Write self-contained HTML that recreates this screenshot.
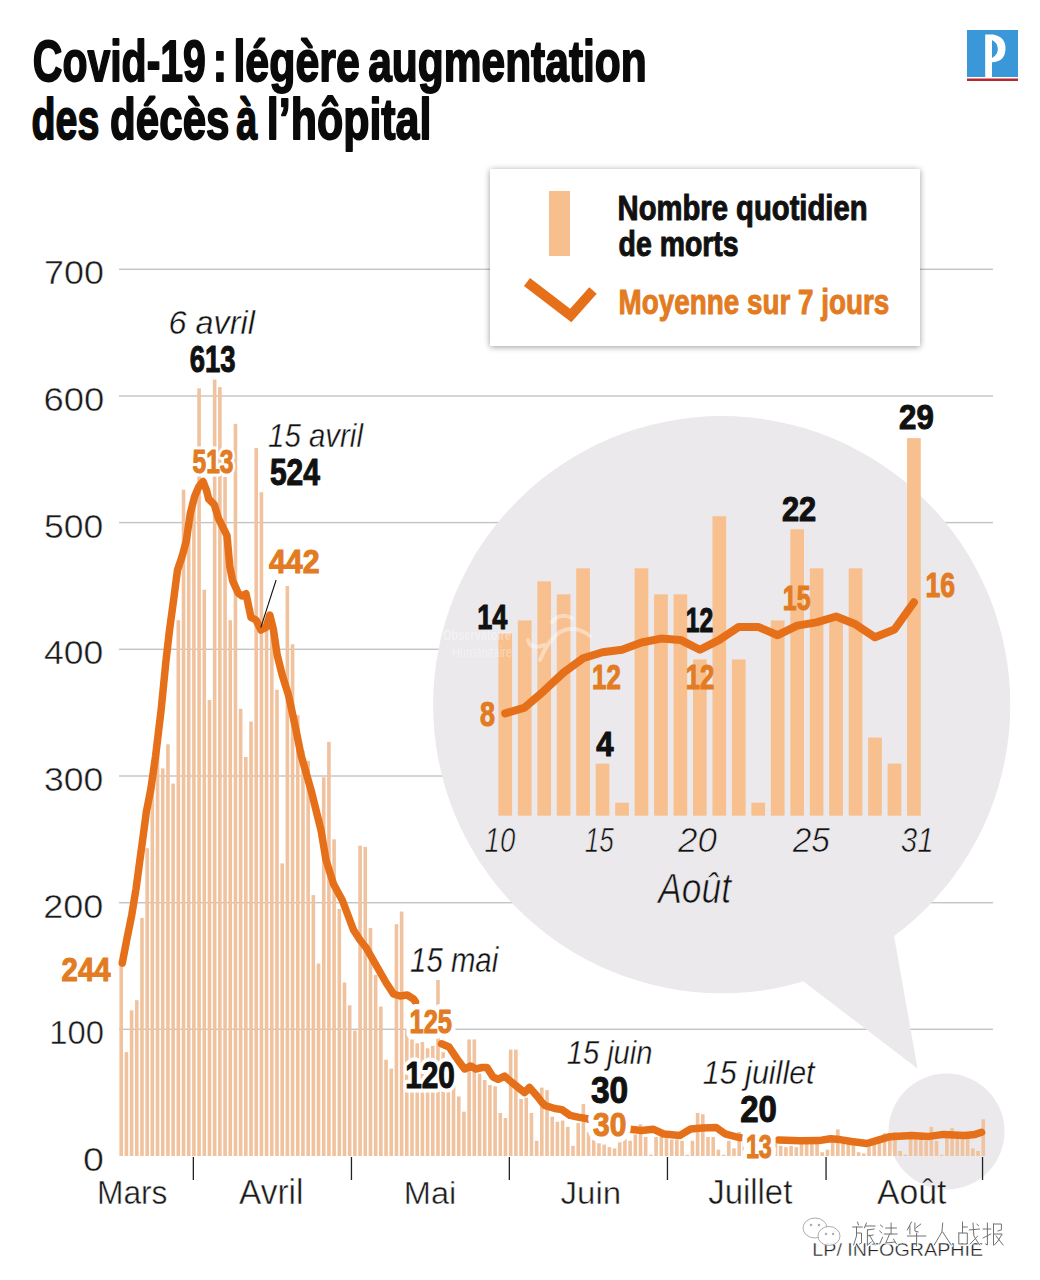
<!DOCTYPE html>
<html><head><meta charset="utf-8"><title>Covid-19</title>
<style>html,body{margin:0;padding:0;background:#fff;overflow:hidden;}svg{display:block;}</style>
</head><body>
<svg width="1040" height="1280" viewBox="0 0 1040 1280" font-family='"Liberation Sans", sans-serif'>
<defs><filter id="sh" x="-10%" y="-20%" width="120%" height="140%"><feGaussianBlur in="SourceAlpha" stdDeviation="3"/><feOffset dx="0" dy="1" result="b"/><feComponentTransfer><feFuncA type="linear" slope="0.4"/></feComponentTransfer><feMerge><feMergeNode/><feMergeNode in="SourceGraphic"/></feMerge></filter></defs>
<rect width="1040" height="1280" fill="#fff"/>
<rect x="119" y="1028.6" width="874" height="1.4" fill="#c4c4c4"/>
<rect x="119" y="902.0" width="874" height="1.4" fill="#c4c4c4"/>
<rect x="119" y="775.3" width="874" height="1.4" fill="#c4c4c4"/>
<rect x="119" y="648.6" width="874" height="1.4" fill="#c4c4c4"/>
<rect x="119" y="521.9" width="874" height="1.4" fill="#c4c4c4"/>
<rect x="119" y="395.3" width="874" height="1.4" fill="#c4c4c4"/>
<rect x="119" y="268.6" width="874" height="1.4" fill="#c4c4c4"/>
<circle cx="721.7" cy="704.7" r="288.6" fill="#ebe9ec"/>
<polygon points="795,975 917.5,1068.5 893,930" fill="#ebe9ec"/>
<circle cx="946.5" cy="1131.5" r="58" fill="#ebe9ec"/>
<rect x="119.40" y="966.00" width="3.6" height="190.00" fill="#f0c29e"/>
<rect x="124.59" y="1052.13" width="3.6" height="103.87" fill="#f0c29e"/>
<rect x="129.79" y="1010.33" width="3.6" height="145.67" fill="#f0c29e"/>
<rect x="134.98" y="1000.20" width="3.6" height="155.80" fill="#f0c29e"/>
<rect x="140.17" y="917.86" width="3.6" height="238.14" fill="#f0c29e"/>
<rect x="145.36" y="848.19" width="3.6" height="307.81" fill="#f0c29e"/>
<rect x="150.56" y="775.99" width="3.6" height="380.01" fill="#f0c29e"/>
<rect x="155.75" y="725.32" width="3.6" height="430.68" fill="#f0c29e"/>
<rect x="160.94" y="768.39" width="3.6" height="387.61" fill="#f0c29e"/>
<rect x="166.14" y="744.32" width="3.6" height="411.68" fill="#f0c29e"/>
<rect x="171.33" y="783.59" width="3.6" height="372.41" fill="#f0c29e"/>
<rect x="176.52" y="620.19" width="3.6" height="535.81" fill="#f0c29e"/>
<rect x="181.72" y="489.72" width="3.6" height="666.28" fill="#f0c29e"/>
<rect x="186.91" y="535.32" width="3.6" height="620.68" fill="#f0c29e"/>
<rect x="192.10" y="507.45" width="3.6" height="648.55" fill="#f0c29e"/>
<rect x="197.29" y="388.38" width="3.6" height="767.62" fill="#f0c29e"/>
<rect x="202.49" y="589.79" width="3.6" height="566.21" fill="#f0c29e"/>
<rect x="207.68" y="699.99" width="3.6" height="456.01" fill="#f0c29e"/>
<rect x="212.87" y="379.51" width="3.6" height="776.49" fill="#f0c29e"/>
<rect x="218.07" y="387.11" width="3.6" height="768.89" fill="#f0c29e"/>
<rect x="223.26" y="477.05" width="3.6" height="678.95" fill="#f0c29e"/>
<rect x="228.45" y="620.19" width="3.6" height="535.81" fill="#f0c29e"/>
<rect x="233.65" y="423.85" width="3.6" height="732.15" fill="#f0c29e"/>
<rect x="238.84" y="708.85" width="3.6" height="447.15" fill="#f0c29e"/>
<rect x="244.03" y="756.99" width="3.6" height="399.01" fill="#f0c29e"/>
<rect x="249.22" y="721.52" width="3.6" height="434.48" fill="#f0c29e"/>
<rect x="254.42" y="447.91" width="3.6" height="708.09" fill="#f0c29e"/>
<rect x="259.61" y="492.25" width="3.6" height="663.75" fill="#f0c29e"/>
<rect x="264.80" y="623.99" width="3.6" height="532.01" fill="#f0c29e"/>
<rect x="270.00" y="623.99" width="3.6" height="532.01" fill="#f0c29e"/>
<rect x="275.19" y="689.85" width="3.6" height="466.15" fill="#f0c29e"/>
<rect x="280.38" y="863.39" width="3.6" height="292.61" fill="#f0c29e"/>
<rect x="285.58" y="585.99" width="3.6" height="570.01" fill="#f0c29e"/>
<rect x="290.77" y="644.25" width="3.6" height="511.75" fill="#f0c29e"/>
<rect x="295.96" y="715.19" width="3.6" height="440.81" fill="#f0c29e"/>
<rect x="301.15" y="750.66" width="3.6" height="405.34" fill="#f0c29e"/>
<rect x="306.35" y="760.79" width="3.6" height="395.21" fill="#f0c29e"/>
<rect x="311.54" y="895.06" width="3.6" height="260.94" fill="#f0c29e"/>
<rect x="316.73" y="963.46" width="3.6" height="192.54" fill="#f0c29e"/>
<rect x="321.93" y="777.26" width="3.6" height="378.74" fill="#f0c29e"/>
<rect x="327.12" y="741.79" width="3.6" height="414.21" fill="#f0c29e"/>
<rect x="332.31" y="839.33" width="3.6" height="316.68" fill="#f0c29e"/>
<rect x="337.51" y="908.99" width="3.6" height="247.01" fill="#f0c29e"/>
<rect x="342.70" y="982.46" width="3.6" height="173.54" fill="#f0c29e"/>
<rect x="347.89" y="1005.26" width="3.6" height="150.74" fill="#f0c29e"/>
<rect x="353.08" y="1030.60" width="3.6" height="125.40" fill="#f0c29e"/>
<rect x="358.28" y="845.66" width="3.6" height="310.34" fill="#f0c29e"/>
<rect x="363.47" y="846.93" width="3.6" height="309.07" fill="#f0c29e"/>
<rect x="368.66" y="927.99" width="3.6" height="228.01" fill="#f0c29e"/>
<rect x="373.86" y="974.86" width="3.6" height="181.14" fill="#f0c29e"/>
<rect x="379.05" y="1006.53" width="3.6" height="149.47" fill="#f0c29e"/>
<rect x="384.24" y="1059.73" width="3.6" height="96.27" fill="#f0c29e"/>
<rect x="389.44" y="1068.60" width="3.6" height="87.40" fill="#f0c29e"/>
<rect x="394.63" y="924.19" width="3.6" height="231.81" fill="#f0c29e"/>
<rect x="399.82" y="911.53" width="3.6" height="244.47" fill="#f0c29e"/>
<rect x="405.01" y="1029.33" width="3.6" height="126.67" fill="#f0c29e"/>
<rect x="410.21" y="1039.46" width="3.6" height="116.54" fill="#f0c29e"/>
<rect x="415.40" y="1043.26" width="3.6" height="112.74" fill="#f0c29e"/>
<rect x="420.59" y="1042.00" width="3.6" height="114.00" fill="#f0c29e"/>
<rect x="425.79" y="1048.33" width="3.6" height="107.67" fill="#f0c29e"/>
<rect x="430.98" y="1045.80" width="3.6" height="110.20" fill="#f0c29e"/>
<rect x="436.17" y="979.93" width="3.6" height="176.07" fill="#f0c29e"/>
<rect x="441.37" y="1052.13" width="3.6" height="103.87" fill="#f0c29e"/>
<rect x="446.56" y="1061.00" width="3.6" height="95.00" fill="#f0c29e"/>
<rect x="451.75" y="1073.66" width="3.6" height="82.34" fill="#f0c29e"/>
<rect x="456.94" y="1096.47" width="3.6" height="59.53" fill="#f0c29e"/>
<rect x="462.14" y="1111.67" width="3.6" height="44.33" fill="#f0c29e"/>
<rect x="467.33" y="1039.46" width="3.6" height="116.54" fill="#f0c29e"/>
<rect x="472.52" y="1039.46" width="3.6" height="116.54" fill="#f0c29e"/>
<rect x="477.72" y="1073.66" width="3.6" height="82.34" fill="#f0c29e"/>
<rect x="482.91" y="1080.00" width="3.6" height="76.00" fill="#f0c29e"/>
<rect x="488.10" y="1085.06" width="3.6" height="70.94" fill="#f0c29e"/>
<rect x="493.30" y="1086.33" width="3.6" height="69.67" fill="#f0c29e"/>
<rect x="498.49" y="1112.93" width="3.6" height="43.07" fill="#f0c29e"/>
<rect x="503.68" y="1118.00" width="3.6" height="38.00" fill="#f0c29e"/>
<rect x="508.87" y="1049.60" width="3.6" height="106.40" fill="#f0c29e"/>
<rect x="514.07" y="1049.60" width="3.6" height="106.40" fill="#f0c29e"/>
<rect x="519.26" y="1099.00" width="3.6" height="57.00" fill="#f0c29e"/>
<rect x="524.45" y="1097.73" width="3.6" height="58.27" fill="#f0c29e"/>
<rect x="529.65" y="1112.93" width="3.6" height="43.07" fill="#f0c29e"/>
<rect x="534.84" y="1140.80" width="3.6" height="15.20" fill="#f0c29e"/>
<rect x="540.03" y="1087.60" width="3.6" height="68.40" fill="#f0c29e"/>
<rect x="545.23" y="1090.13" width="3.6" height="65.87" fill="#f0c29e"/>
<rect x="550.42" y="1116.73" width="3.6" height="39.27" fill="#f0c29e"/>
<rect x="555.61" y="1121.80" width="3.6" height="34.20" fill="#f0c29e"/>
<rect x="560.81" y="1120.53" width="3.6" height="35.47" fill="#f0c29e"/>
<rect x="566.00" y="1126.87" width="3.6" height="29.13" fill="#f0c29e"/>
<rect x="571.19" y="1145.87" width="3.6" height="10.13" fill="#f0c29e"/>
<rect x="576.38" y="1123.07" width="3.6" height="32.93" fill="#f0c29e"/>
<rect x="581.58" y="1104.07" width="3.6" height="51.93" fill="#f0c29e"/>
<rect x="586.77" y="1131.93" width="3.6" height="24.07" fill="#f0c29e"/>
<rect x="591.96" y="1139.53" width="3.6" height="16.47" fill="#f0c29e"/>
<rect x="597.16" y="1143.33" width="3.6" height="12.67" fill="#f0c29e"/>
<rect x="602.35" y="1144.60" width="3.6" height="11.40" fill="#f0c29e"/>
<rect x="607.54" y="1147.13" width="3.6" height="8.87" fill="#f0c29e"/>
<rect x="612.74" y="1148.40" width="3.6" height="7.60" fill="#f0c29e"/>
<rect x="617.93" y="1142.07" width="3.6" height="13.93" fill="#f0c29e"/>
<rect x="623.12" y="1138.27" width="3.6" height="17.73" fill="#f0c29e"/>
<rect x="628.31" y="1140.80" width="3.6" height="15.20" fill="#f0c29e"/>
<rect x="633.51" y="1134.47" width="3.6" height="21.53" fill="#f0c29e"/>
<rect x="638.70" y="1124.33" width="3.6" height="31.67" fill="#f0c29e"/>
<rect x="643.89" y="1137.00" width="3.6" height="19.00" fill="#f0c29e"/>
<rect x="649.09" y="1154.73" width="3.6" height="1.27" fill="#f0c29e"/>
<rect x="654.28" y="1137.00" width="3.6" height="19.00" fill="#f0c29e"/>
<rect x="659.47" y="1137.00" width="3.6" height="19.00" fill="#f0c29e"/>
<rect x="664.67" y="1138.27" width="3.6" height="17.73" fill="#f0c29e"/>
<rect x="669.86" y="1139.53" width="3.6" height="16.47" fill="#f0c29e"/>
<rect x="675.05" y="1139.53" width="3.6" height="16.47" fill="#f0c29e"/>
<rect x="680.24" y="1140.80" width="3.6" height="15.20" fill="#f0c29e"/>
<rect x="685.44" y="1154.73" width="3.6" height="1.27" fill="#f0c29e"/>
<rect x="690.63" y="1140.80" width="3.6" height="15.20" fill="#f0c29e"/>
<rect x="695.82" y="1112.93" width="3.6" height="43.07" fill="#f0c29e"/>
<rect x="701.02" y="1114.20" width="3.6" height="41.80" fill="#f0c29e"/>
<rect x="706.21" y="1137.00" width="3.6" height="19.00" fill="#f0c29e"/>
<rect x="711.40" y="1137.00" width="3.6" height="19.00" fill="#f0c29e"/>
<rect x="716.60" y="1149.67" width="3.6" height="6.33" fill="#f0c29e"/>
<rect x="721.79" y="1154.73" width="3.6" height="1.27" fill="#f0c29e"/>
<rect x="726.98" y="1140.80" width="3.6" height="15.20" fill="#f0c29e"/>
<rect x="732.17" y="1148.40" width="3.6" height="7.60" fill="#f0c29e"/>
<rect x="737.37" y="1131.93" width="3.6" height="24.07" fill="#f0c29e"/>
<rect x="742.56" y="1138.27" width="3.6" height="17.73" fill="#f0c29e"/>
<rect x="747.75" y="1140.80" width="3.6" height="15.20" fill="#f0c29e"/>
<rect x="752.95" y="1152.20" width="3.6" height="3.80" fill="#f0c29e"/>
<rect x="758.14" y="1153.47" width="3.6" height="2.53" fill="#f0c29e"/>
<rect x="763.33" y="1140.80" width="3.6" height="15.20" fill="#f0c29e"/>
<rect x="768.53" y="1139.53" width="3.6" height="16.47" fill="#f0c29e"/>
<rect x="773.72" y="1142.07" width="3.6" height="13.93" fill="#f0c29e"/>
<rect x="778.91" y="1145.87" width="3.6" height="10.13" fill="#f0c29e"/>
<rect x="784.10" y="1147.13" width="3.6" height="8.87" fill="#f0c29e"/>
<rect x="789.30" y="1145.87" width="3.6" height="10.13" fill="#f0c29e"/>
<rect x="794.49" y="1147.13" width="3.6" height="8.87" fill="#f0c29e"/>
<rect x="799.68" y="1140.80" width="3.6" height="15.20" fill="#f0c29e"/>
<rect x="804.88" y="1140.80" width="3.6" height="15.20" fill="#f0c29e"/>
<rect x="810.07" y="1142.07" width="3.6" height="13.93" fill="#f0c29e"/>
<rect x="815.26" y="1140.80" width="3.6" height="15.20" fill="#f0c29e"/>
<rect x="820.46" y="1152.20" width="3.6" height="3.80" fill="#f0c29e"/>
<rect x="825.65" y="1149.67" width="3.6" height="6.33" fill="#f0c29e"/>
<rect x="830.84" y="1140.80" width="3.6" height="15.20" fill="#f0c29e"/>
<rect x="836.03" y="1129.40" width="3.6" height="26.60" fill="#f0c29e"/>
<rect x="841.23" y="1140.80" width="3.6" height="15.20" fill="#f0c29e"/>
<rect x="846.42" y="1140.80" width="3.6" height="15.20" fill="#f0c29e"/>
<rect x="851.61" y="1142.07" width="3.6" height="13.93" fill="#f0c29e"/>
<rect x="856.81" y="1152.20" width="3.6" height="3.80" fill="#f0c29e"/>
<rect x="862.00" y="1153.47" width="3.6" height="2.53" fill="#f0c29e"/>
<rect x="867.19" y="1140.80" width="3.6" height="15.20" fill="#f0c29e"/>
<rect x="872.38" y="1138.27" width="3.6" height="17.73" fill="#f0c29e"/>
<rect x="877.58" y="1137.00" width="3.6" height="19.00" fill="#f0c29e"/>
<rect x="882.77" y="1133.20" width="3.6" height="22.80" fill="#f0c29e"/>
<rect x="887.96" y="1134.47" width="3.6" height="21.53" fill="#f0c29e"/>
<rect x="893.16" y="1131.93" width="3.6" height="24.07" fill="#f0c29e"/>
<rect x="898.35" y="1150.93" width="3.6" height="5.07" fill="#f0c29e"/>
<rect x="903.54" y="1154.73" width="3.6" height="1.27" fill="#f0c29e"/>
<rect x="908.74" y="1131.93" width="3.6" height="24.07" fill="#f0c29e"/>
<rect x="913.93" y="1134.47" width="3.6" height="21.53" fill="#f0c29e"/>
<rect x="919.12" y="1134.47" width="3.6" height="21.53" fill="#f0c29e"/>
<rect x="924.32" y="1140.80" width="3.6" height="15.20" fill="#f0c29e"/>
<rect x="929.51" y="1126.87" width="3.6" height="29.13" fill="#f0c29e"/>
<rect x="934.70" y="1140.80" width="3.6" height="15.20" fill="#f0c29e"/>
<rect x="939.89" y="1154.73" width="3.6" height="1.27" fill="#f0c29e"/>
<rect x="945.09" y="1137.00" width="3.6" height="19.00" fill="#f0c29e"/>
<rect x="950.28" y="1128.13" width="3.6" height="27.87" fill="#f0c29e"/>
<rect x="955.47" y="1131.93" width="3.6" height="24.07" fill="#f0c29e"/>
<rect x="960.67" y="1137.00" width="3.6" height="19.00" fill="#f0c29e"/>
<rect x="965.86" y="1131.93" width="3.6" height="24.07" fill="#f0c29e"/>
<rect x="971.05" y="1148.40" width="3.6" height="7.60" fill="#f0c29e"/>
<rect x="976.25" y="1150.93" width="3.6" height="5.07" fill="#f0c29e"/>
<rect x="981.44" y="1119.27" width="3.6" height="36.73" fill="#f0c29e"/>
<path d="M122.3,963.0 L126.6,940.5 L131.8,914.7 L136.0,889.0 L139.5,863.0 L143.0,837.3 L146.4,811.6 L150.8,789.2 L155.6,756.0 L161.2,709.4 L165.8,662.5 L169.4,631.0 L173.6,600.0 L177.5,570.0 L182.0,556.7 L186.2,541.3 L190.4,513.0 L194.7,496.3 L198.9,486.4 L203.1,481.5 L206.6,490.6 L208.7,499.0 L214.3,504.7 L218.6,518.8 L224.2,530.0 L227.0,535.6 L229.8,566.6 L232.6,580.6 L238.3,593.3 L242.0,596.0 L246.0,593.8 L251.0,617.5 L256.0,620.0 L261.0,630.0 L266.0,627.5 L269.8,615.0 L273.5,630.0 L277.2,655.0 L282.2,675.0 L288.5,695.0 L296.0,730.0 L301.0,755.0 L306.0,772.5 L311.0,790.0 L316.0,810.0 L321.0,830.0 L326.0,860.0 L333.5,884.0 L342.2,900.0 L346.0,910.0 L353.5,930.0 L360.0,940.0 L366.0,947.5 L376.0,965.0 L386.0,982.5 L393.5,994.0 L400.0,996.0 L407.2,995.0 L413.5,999.0 L415.5,1001.9 M441.5,1043.8 L449.1,1047.0 L456.9,1058.7 L464.6,1069.0 L470.8,1066.0 L475.8,1069.0 L482.0,1067.5 L487.0,1067.5 L492.9,1076.8 L498.1,1079.3 L504.5,1076.1 L512.0,1082.5 L518.2,1087.5 L524.5,1092.5 L529.5,1087.5 L537.0,1096.0 L542.0,1102.5 L545.4,1105.7 L554.8,1108.5 L561.9,1109.6 L570.0,1115.4 L578.1,1117.1 L587.3,1118.8 L588.0,1119.1 M629.5,1129.2 L630.0,1129.2 L641.5,1130.4 L653.1,1129.2 L663.7,1134.0 L680.0,1135.4 L690.6,1129.0 L702.2,1128.0 L716.2,1127.5 L725.0,1133.8 L738.8,1137.5 L740.5,1137.7 M778.5,1140.0 L778.8,1140.0 L800.0,1140.7 L818.8,1140.6 L830.4,1138.7 L840.0,1139.6 L851.5,1141.5 L866.9,1143.5 L876.5,1140.6 L890.0,1136.7 L911.7,1135.5 L927.6,1136.6 L943.5,1134.4 L964.7,1135.5 L975.2,1134.4 L981.6,1132.3 " fill="none" stroke="#e6701a" stroke-width="7.5" stroke-linejoin="round" stroke-linecap="round"/>
<rect x="192.7" y="1157" width="1.3" height="23" fill="#222"/>
<rect x="350.8" y="1157" width="1.3" height="23" fill="#222"/>
<rect x="508.7" y="1157" width="1.3" height="23" fill="#222"/>
<rect x="666.8" y="1157" width="1.3" height="23" fill="#222"/>
<rect x="825.4" y="1157" width="1.3" height="23" fill="#222"/>
<rect x="981.9" y="1157" width="1.3" height="23" fill="#222"/>
<text x="96.96" y="1204.3" font-size="34.01" textLength="70.55" lengthAdjust="spacingAndGlyphs" fill="#1a1a1a" stroke="#fff" stroke-width="0.45">Mars</text>
<text x="239.0" y="1204.3" font-size="34.4" textLength="64.45" lengthAdjust="spacingAndGlyphs" fill="#1a1a1a" stroke="#fff" stroke-width="0.45">Avril</text>
<text x="403.8" y="1204.3" font-size="31.24" textLength="52.56" lengthAdjust="spacingAndGlyphs" fill="#1a1a1a" stroke="#fff" stroke-width="0.45">Mai</text>
<text x="560.6" y="1204.3" font-size="31.24" textLength="60.65" lengthAdjust="spacingAndGlyphs" fill="#1a1a1a" stroke="#fff" stroke-width="0.45">Juin</text>
<text x="708.2" y="1204.3" font-size="34.4" textLength="84.14" lengthAdjust="spacingAndGlyphs" fill="#1a1a1a" stroke="#fff" stroke-width="0.45">Juillet</text>
<text x="877.0" y="1204.3" font-size="34.4" textLength="69.47" lengthAdjust="spacingAndGlyphs" fill="#1a1a1a" stroke="#fff" stroke-width="0.45">Août</text>
<text x="44.0" y="284.31000000000006" font-size="32.86" textLength="59.88" lengthAdjust="spacingAndGlyphs" fill="#1a1a1a" stroke="#fff" stroke-width="0.45">700</text>
<text x="43.5" y="410.98" font-size="32.86" textLength="60.8" lengthAdjust="spacingAndGlyphs" fill="#1a1a1a" stroke="#fff" stroke-width="0.45">600</text>
<text x="44.0" y="537.65" font-size="32.86" textLength="59.27" lengthAdjust="spacingAndGlyphs" fill="#1a1a1a" stroke="#fff" stroke-width="0.45">500</text>
<text x="44.0" y="664.32" font-size="32.86" textLength="59.27" lengthAdjust="spacingAndGlyphs" fill="#1a1a1a" stroke="#fff" stroke-width="0.45">400</text>
<text x="44.0" y="790.99" font-size="32.86" textLength="59.27" lengthAdjust="spacingAndGlyphs" fill="#1a1a1a" stroke="#fff" stroke-width="0.45">300</text>
<text x="43.2" y="917.6600000000001" font-size="32.86" textLength="60.1" lengthAdjust="spacingAndGlyphs" fill="#1a1a1a" stroke="#fff" stroke-width="0.45">200</text>
<text x="49.2" y="1044.33" font-size="32.86" textLength="54.8" lengthAdjust="spacingAndGlyphs" fill="#1a1a1a" stroke="#fff" stroke-width="0.45">100</text>
<text x="83.0" y="1171.0" font-size="32.86" textLength="20.88" lengthAdjust="spacingAndGlyphs" fill="#1a1a1a" stroke="#fff" stroke-width="0.45">0</text>
<line x1="276.1" y1="580" x2="260.8" y2="627.6" stroke="#111" stroke-width="1.1"/>
<text x="168.6" y="333.5" font-size="33.31" textLength="86.29" lengthAdjust="spacingAndGlyphs" font-style="italic" fill="#fff" stroke="#fff" stroke-width="6" stroke-linejoin="round">6 avril</text><text x="168.6" y="333.5" font-size="33.31" textLength="86.29" lengthAdjust="spacingAndGlyphs" font-style="italic" fill="#111111" stroke="#fff" stroke-width="0.4">6 avril</text>
<text x="189.8" y="371.6" font-size="37.5" textLength="45.77" lengthAdjust="spacingAndGlyphs" font-weight="bold" fill="#fff" stroke="#fff" stroke-width="7.1" stroke-linejoin="round">613</text><text x="189.8" y="371.6" font-size="37.5" textLength="45.77" lengthAdjust="spacingAndGlyphs" font-weight="bold" fill="#111111" stroke="#111111" stroke-width="1.1" stroke-linejoin="round">613</text>
<text x="192.5" y="472.5" font-size="32.5" textLength="40.96" lengthAdjust="spacingAndGlyphs" font-weight="bold" fill="#fff" stroke="#fff" stroke-width="7.1" stroke-linejoin="round">513</text><text x="192.5" y="472.5" font-size="32.5" textLength="40.96" lengthAdjust="spacingAndGlyphs" font-weight="bold" fill="#e27b22" stroke="#e27b22" stroke-width="1.1" stroke-linejoin="round">513</text>
<text x="268.0" y="446.9" font-size="33.72" textLength="94.95" lengthAdjust="spacingAndGlyphs" font-style="italic" fill="#fff" stroke="#fff" stroke-width="6" stroke-linejoin="round">15 avril</text><text x="268.0" y="446.9" font-size="33.72" textLength="94.95" lengthAdjust="spacingAndGlyphs" font-style="italic" fill="#111111" stroke="#fff" stroke-width="0.4">15 avril</text>
<text x="269.9" y="485.1" font-size="37.5" textLength="50.03" lengthAdjust="spacingAndGlyphs" font-weight="bold" fill="#fff" stroke="#fff" stroke-width="7.1" stroke-linejoin="round">524</text><text x="269.9" y="485.1" font-size="37.5" textLength="50.03" lengthAdjust="spacingAndGlyphs" font-weight="bold" fill="#111111" stroke="#111111" stroke-width="1.1" stroke-linejoin="round">524</text>
<text x="269.0" y="573.0" font-size="34" textLength="50.6" lengthAdjust="spacingAndGlyphs" font-weight="bold" fill="#fff" stroke="#fff" stroke-width="7.1" stroke-linejoin="round">442</text><text x="269.0" y="573.0" font-size="34" textLength="50.6" lengthAdjust="spacingAndGlyphs" font-weight="bold" fill="#e27b22" stroke="#e27b22" stroke-width="1.1" stroke-linejoin="round">442</text>
<text x="410.1" y="972.4" font-size="34.37" textLength="88.12" lengthAdjust="spacingAndGlyphs" font-style="italic" fill="#fff" stroke="#fff" stroke-width="6" stroke-linejoin="round">15 mai</text><text x="410.1" y="972.4" font-size="34.37" textLength="88.12" lengthAdjust="spacingAndGlyphs" font-style="italic" fill="#111111" stroke="#fff" stroke-width="0.4">15 mai</text>
<text x="409.5" y="1032.9" font-size="34" textLength="42.5" lengthAdjust="spacingAndGlyphs" font-weight="bold" fill="#fff" stroke="#fff" stroke-width="12.1" stroke-linejoin="round">125</text><text x="409.5" y="1032.9" font-size="34" textLength="42.5" lengthAdjust="spacingAndGlyphs" font-weight="bold" fill="#e27b22" stroke="#e27b22" stroke-width="1.1" stroke-linejoin="round">125</text>
<text x="405.2" y="1087.7" font-size="37.5" textLength="49.66" lengthAdjust="spacingAndGlyphs" font-weight="bold" fill="#fff" stroke="#fff" stroke-width="9.1" stroke-linejoin="round">120</text><text x="405.2" y="1087.7" font-size="37.5" textLength="49.66" lengthAdjust="spacingAndGlyphs" font-weight="bold" fill="#111111" stroke="#111111" stroke-width="1.1" stroke-linejoin="round">120</text>
<text x="566.7" y="1064.4" font-size="34.14" textLength="85.77" lengthAdjust="spacingAndGlyphs" font-style="italic" fill="#fff" stroke="#fff" stroke-width="6" stroke-linejoin="round">15 juin</text><text x="566.7" y="1064.4" font-size="34.14" textLength="85.77" lengthAdjust="spacingAndGlyphs" font-style="italic" fill="#111111" stroke="#fff" stroke-width="0.4">15 juin</text>
<text x="590.9" y="1102.7" font-size="37.5" textLength="37.24" lengthAdjust="spacingAndGlyphs" font-weight="bold" fill="#fff" stroke="#fff" stroke-width="9.1" stroke-linejoin="round">30</text><text x="590.9" y="1102.7" font-size="37.5" textLength="37.24" lengthAdjust="spacingAndGlyphs" font-weight="bold" fill="#111111" stroke="#111111" stroke-width="1.1" stroke-linejoin="round">30</text>
<text x="593.1" y="1135.6" font-size="34" textLength="33.27" lengthAdjust="spacingAndGlyphs" font-weight="bold" fill="#fff" stroke="#fff" stroke-width="13.1" stroke-linejoin="round">30</text><text x="593.1" y="1135.6" font-size="34" textLength="33.27" lengthAdjust="spacingAndGlyphs" font-weight="bold" fill="#e27b22" stroke="#e27b22" stroke-width="1.1" stroke-linejoin="round">30</text>
<text x="702.75" y="1083.75" font-size="33.54" textLength="111.83" lengthAdjust="spacingAndGlyphs" font-style="italic" fill="#fff" stroke="#fff" stroke-width="6" stroke-linejoin="round">15 juillet</text><text x="702.75" y="1083.75" font-size="33.54" textLength="111.83" lengthAdjust="spacingAndGlyphs" font-style="italic" fill="#111111" stroke="#fff" stroke-width="0.4">15 juillet</text>
<text x="740.25" y="1121.9" font-size="37.5" textLength="36.62" lengthAdjust="spacingAndGlyphs" font-weight="bold" fill="#fff" stroke="#fff" stroke-width="9.1" stroke-linejoin="round">20</text><text x="740.25" y="1121.9" font-size="37.5" textLength="36.62" lengthAdjust="spacingAndGlyphs" font-weight="bold" fill="#111111" stroke="#111111" stroke-width="1.1" stroke-linejoin="round">20</text>
<text x="745.9" y="1157.5" font-size="34" textLength="25.89" lengthAdjust="spacingAndGlyphs" font-weight="bold" fill="#fff" stroke="#fff" stroke-width="15.1" stroke-linejoin="round">13</text><text x="745.9" y="1157.5" font-size="34" textLength="25.89" lengthAdjust="spacingAndGlyphs" font-weight="bold" fill="#e27b22" stroke="#e27b22" stroke-width="1.1" stroke-linejoin="round">13</text>
<text x="61.6" y="980.7" font-size="34" textLength="48.95" lengthAdjust="spacingAndGlyphs" font-weight="bold" fill="#fff" stroke="#fff" stroke-width="7.1" stroke-linejoin="round">244</text><text x="61.6" y="980.7" font-size="34" textLength="48.95" lengthAdjust="spacingAndGlyphs" font-weight="bold" fill="#e27b22" stroke="#e27b22" stroke-width="1.1" stroke-linejoin="round">244</text>
<rect x="498.40" y="633.42" width="13.7" height="182.28" fill="#f8c08f"/>
<rect x="517.86" y="620.40" width="13.7" height="195.30" fill="#f8c08f"/>
<rect x="537.32" y="581.34" width="13.7" height="234.36" fill="#f8c08f"/>
<rect x="556.78" y="594.36" width="13.7" height="221.34" fill="#f8c08f"/>
<rect x="576.24" y="568.32" width="13.7" height="247.38" fill="#f8c08f"/>
<rect x="595.70" y="763.62" width="13.7" height="52.08" fill="#f8c08f"/>
<rect x="615.16" y="802.68" width="13.7" height="13.02" fill="#f8c08f"/>
<rect x="634.62" y="568.32" width="13.7" height="247.38" fill="#f8c08f"/>
<rect x="654.08" y="594.36" width="13.7" height="221.34" fill="#f8c08f"/>
<rect x="673.54" y="594.36" width="13.7" height="221.34" fill="#f8c08f"/>
<rect x="693.00" y="659.46" width="13.7" height="156.24" fill="#f8c08f"/>
<rect x="712.46" y="516.24" width="13.7" height="299.46" fill="#f8c08f"/>
<rect x="731.92" y="659.46" width="13.7" height="156.24" fill="#f8c08f"/>
<rect x="751.38" y="802.68" width="13.7" height="13.02" fill="#f8c08f"/>
<rect x="770.84" y="620.40" width="13.7" height="195.30" fill="#f8c08f"/>
<rect x="790.30" y="529.26" width="13.7" height="286.44" fill="#f8c08f"/>
<rect x="809.76" y="568.32" width="13.7" height="247.38" fill="#f8c08f"/>
<rect x="829.22" y="620.40" width="13.7" height="195.30" fill="#f8c08f"/>
<rect x="848.68" y="568.32" width="13.7" height="247.38" fill="#f8c08f"/>
<rect x="868.14" y="737.58" width="13.7" height="78.12" fill="#f8c08f"/>
<rect x="887.60" y="763.62" width="13.7" height="52.08" fill="#f8c08f"/>
<rect x="907.06" y="438.12" width="13.7" height="377.58" fill="#f8c08f"/>
<path d="M505.2,713.4 L524.7,707.6 L544.2,690.7 L563.6,672.5 L583.1,658.2 L602.5,652.2 L622.0,649.7 L641.5,642.5 L660.9,638.6 L680.4,639.9 L699.9,649.7 L719.3,639.9 L738.8,626.9 L758.2,626.9 L777.7,635.2 L797.2,625.6 L816.6,622.4 L836.1,616.5 L855.5,624.3 L875.0,637.3 L894.5,629.5 L913.9,602.2" fill="none" stroke="#e6701a" stroke-width="8" stroke-linejoin="round" stroke-linecap="round"/>
<text x="477.2" y="628.5" font-size="35.5" textLength="30.09" lengthAdjust="spacingAndGlyphs" font-weight="bold" fill="#111111" stroke="#111111" stroke-width="1.1" stroke-linejoin="round">14</text>
<text x="596.2" y="756.2" font-size="35.5" textLength="17.3" lengthAdjust="spacingAndGlyphs" font-weight="bold" fill="#111111" stroke="#111111" stroke-width="1.1" stroke-linejoin="round">4</text>
<text x="685.7" y="632.0" font-size="35.5" textLength="27.53" lengthAdjust="spacingAndGlyphs" font-weight="bold" fill="#111111" stroke="#111111" stroke-width="1.1" stroke-linejoin="round">12</text>
<text x="782.0" y="520.5" font-size="35.5" textLength="34.24" lengthAdjust="spacingAndGlyphs" font-weight="bold" fill="#111111" stroke="#111111" stroke-width="1.1" stroke-linejoin="round">22</text>
<text x="899.1" y="429.3" font-size="35.5" textLength="34.7" lengthAdjust="spacingAndGlyphs" font-weight="bold" fill="#111111" stroke="#111111" stroke-width="1.1" stroke-linejoin="round">29</text>
<text x="480.0" y="726.2" font-size="35.5" textLength="14.98" lengthAdjust="spacingAndGlyphs" font-weight="bold" fill="#e27b22" stroke="#e27b22" stroke-width="1.1" stroke-linejoin="round">8</text>
<text x="592.1" y="688.5" font-size="35.5" textLength="28.76" lengthAdjust="spacingAndGlyphs" font-weight="bold" fill="#e27b22" stroke="#e27b22" stroke-width="1.1" stroke-linejoin="round">12</text>
<text x="685.7" y="688.5" font-size="35.5" textLength="28.53" lengthAdjust="spacingAndGlyphs" font-weight="bold" fill="#e27b22" stroke="#e27b22" stroke-width="1.1" stroke-linejoin="round">12</text>
<text x="782.8" y="609.7" font-size="35.5" textLength="27.71" lengthAdjust="spacingAndGlyphs" font-weight="bold" fill="#e27b22" stroke="#e27b22" stroke-width="1.1" stroke-linejoin="round">15</text>
<text x="925.6" y="596.6" font-size="35.5" textLength="29.53" lengthAdjust="spacingAndGlyphs" font-weight="bold" fill="#e27b22" stroke="#e27b22" stroke-width="1.1" stroke-linejoin="round">16</text>
<text x="484.6" y="851.7" font-size="35.44" textLength="30.59" lengthAdjust="spacingAndGlyphs" font-style="italic" fill="#111111" stroke="#ebe9ec" stroke-width="0.7">10</text>
<text x="584.8" y="851.7" font-size="35.44" textLength="29.05" lengthAdjust="spacingAndGlyphs" font-style="italic" fill="#111111" stroke="#ebe9ec" stroke-width="0.7">15</text>
<text x="678.0" y="851.7" font-size="35.44" textLength="38.87" lengthAdjust="spacingAndGlyphs" font-style="italic" fill="#111111" stroke="#ebe9ec" stroke-width="0.7">20</text>
<text x="792.7" y="851.7" font-size="35.44" textLength="37.18" lengthAdjust="spacingAndGlyphs" font-style="italic" fill="#111111" stroke="#ebe9ec" stroke-width="0.7">25</text>
<text x="900.8" y="851.7" font-size="35.44" textLength="32.77" lengthAdjust="spacingAndGlyphs" font-style="italic" fill="#111111" stroke="#ebe9ec" stroke-width="0.7">31</text>
<text x="658.3" y="902.5" font-size="42.09" textLength="72.67" lengthAdjust="spacingAndGlyphs" font-style="italic" fill="#111111" stroke="#ebe9ec" stroke-width="0.7">Août</text>
<rect x="490" y="169" width="430" height="177" fill="#fff" filter="url(#sh)"/>
<rect x="549" y="191" width="21" height="65" fill="#f7bf8d"/>
<polyline points="527,282 570.7,315.5 593,290.5" fill="none" stroke="#e6701a" stroke-width="10" stroke-linejoin="miter"/>
<text x="617.6" y="220.4" font-size="34.5" textLength="249.94" lengthAdjust="spacingAndGlyphs" font-weight="bold" fill="#111111" stroke="#111111" stroke-width="1.0" stroke-linejoin="round">Nombre quotidien</text>
<text x="618.6" y="256.4" font-size="34.5" textLength="119.98" lengthAdjust="spacingAndGlyphs" font-weight="bold" fill="#111111" stroke="#111111" stroke-width="1.0" stroke-linejoin="round">de morts</text>
<text x="618.6" y="314.1" font-size="35" textLength="270.63" lengthAdjust="spacingAndGlyphs" font-weight="bold" fill="#e27b22" stroke="#e27b22" stroke-width="1.0" stroke-linejoin="round">Moyenne sur 7 jours</text>
<text x="32.8" y="81.2" font-size="57.5" textLength="173.09" lengthAdjust="spacingAndGlyphs" font-weight="bold" fill="#0a0a0a" stroke="#0a0a0a" stroke-width="1.8" stroke-linejoin="round">Covid-19</text>
<text x="31.6" y="139.2" font-size="57.5" textLength="67.77" lengthAdjust="spacingAndGlyphs" font-weight="bold" fill="#0a0a0a" stroke="#0a0a0a" stroke-width="1.8" stroke-linejoin="round">des</text>
<text x="212.5" y="81.2" font-size="57.5" textLength="14.84" lengthAdjust="spacingAndGlyphs" font-weight="bold" fill="#0a0a0a" stroke="#0a0a0a" stroke-width="1.8" stroke-linejoin="round">:</text>
<text x="110.1" y="139.2" font-size="57.5" textLength="119.36" lengthAdjust="spacingAndGlyphs" font-weight="bold" fill="#0a0a0a" stroke="#0a0a0a" stroke-width="1.8" stroke-linejoin="round">décès</text>
<text x="233.4" y="81.2" font-size="57.5" textLength="126.46" lengthAdjust="spacingAndGlyphs" font-weight="bold" fill="#0a0a0a" stroke="#0a0a0a" stroke-width="1.8" stroke-linejoin="round">légère</text>
<text x="236.3" y="139.2" font-size="57.5" textLength="21.02" lengthAdjust="spacingAndGlyphs" font-weight="bold" fill="#0a0a0a" stroke="#0a0a0a" stroke-width="1.8" stroke-linejoin="round">à</text>
<text x="368.2" y="81.2" font-size="57.5" textLength="278.6" lengthAdjust="spacingAndGlyphs" font-weight="bold" fill="#0a0a0a" stroke="#0a0a0a" stroke-width="1.8" stroke-linejoin="round">augmentation</text>
<text x="266.8" y="139.2" font-size="57.5" textLength="164.65" lengthAdjust="spacingAndGlyphs" font-weight="bold" fill="#0a0a0a" stroke="#0a0a0a" stroke-width="1.8" stroke-linejoin="round">l’hôpital</text>
<rect x="967" y="30" width="51" height="47" fill="#3a98d8"/>
<rect x="967" y="78.5" width="51" height="2.5" fill="#b8262e"/>
<path d="M985.2,34.5 L993,34.5 Q1005.5,36.5 1005.5,48.5 Q1005.5,61 993,62.3 L992,62.3 L992,77 L985.2,77 Z M992,40 L992,58 Q997.8,55 997.8,49 Q997.8,43 992,40 Z" fill="#fff" fill-rule="evenodd"/>
<text x="812.3" y="1255.7" font-size="18.33" textLength="170.84" lengthAdjust="spacingAndGlyphs" fill="#222222" stroke="#fff" stroke-width="0.35">LP/ INFOGRAPHIE</text>
<g opacity="0.95"><polyline points="858.3,1222.8 859.3,1225.8" fill="none" stroke="#ffffff" stroke-width="2.2" stroke-linecap="round" stroke-linejoin="round"/><polyline points="853.4,1227.8 863.2,1227.8" fill="none" stroke="#ffffff" stroke-width="2.2" stroke-linecap="round" stroke-linejoin="round"/><polyline points="857.3,1227.8 857.3,1236.8 854.4,1245.8" fill="none" stroke="#ffffff" stroke-width="2.2" stroke-linecap="round" stroke-linejoin="round"/><polyline points="857.3,1233.8 862.2,1233.8 862.2,1243.8 860.3,1244.8" fill="none" stroke="#ffffff" stroke-width="2.2" stroke-linecap="round" stroke-linejoin="round"/><polyline points="867.2,1223.8 865.2,1228.8" fill="none" stroke="#ffffff" stroke-width="2.2" stroke-linecap="round" stroke-linejoin="round"/><polyline points="866.2,1226.8 876.0,1226.8" fill="none" stroke="#ffffff" stroke-width="2.2" stroke-linecap="round" stroke-linejoin="round"/><polyline points="868.1,1230.8 875.0,1229.8" fill="none" stroke="#ffffff" stroke-width="2.2" stroke-linecap="round" stroke-linejoin="round"/><polyline points="868.1,1230.8 868.1,1245.8" fill="none" stroke="#ffffff" stroke-width="2.2" stroke-linecap="round" stroke-linejoin="round"/><polyline points="868.1,1236.8 874.0,1235.8" fill="none" stroke="#ffffff" stroke-width="2.2" stroke-linecap="round" stroke-linejoin="round"/><polyline points="870.1,1235.8 876.0,1245.8" fill="none" stroke="#ffffff" stroke-width="2.2" stroke-linecap="round" stroke-linejoin="round"/><polyline points="868.1,1245.8 872.1,1242.8" fill="none" stroke="#ffffff" stroke-width="2.2" stroke-linecap="round" stroke-linejoin="round"/><polyline points="881.2,1225.8 883.5,1227.8" fill="none" stroke="#ffffff" stroke-width="2.2" stroke-linecap="round" stroke-linejoin="round"/><polyline points="880.4,1231.8 882.7,1233.8" fill="none" stroke="#ffffff" stroke-width="2.2" stroke-linecap="round" stroke-linejoin="round"/><polyline points="880.4,1244.8 883.5,1237.8" fill="none" stroke="#ffffff" stroke-width="2.2" stroke-linecap="round" stroke-linejoin="round"/><polyline points="886.5,1228.8 897.3,1228.8" fill="none" stroke="#ffffff" stroke-width="2.2" stroke-linecap="round" stroke-linejoin="round"/><polyline points="891.9,1223.8 891.9,1234.8" fill="none" stroke="#ffffff" stroke-width="2.2" stroke-linecap="round" stroke-linejoin="round"/><polyline points="885.0,1234.8 898.0,1234.8" fill="none" stroke="#ffffff" stroke-width="2.2" stroke-linecap="round" stroke-linejoin="round"/><polyline points="890.4,1234.8 886.5,1243.8 895.7,1242.8" fill="none" stroke="#ffffff" stroke-width="2.2" stroke-linecap="round" stroke-linejoin="round"/><polyline points="894.2,1239.8 897.3,1244.8" fill="none" stroke="#ffffff" stroke-width="2.2" stroke-linecap="round" stroke-linejoin="round"/><polyline points="912.3,1222.8 908.1,1230.8" fill="none" stroke="#ffffff" stroke-width="2.2" stroke-linecap="round" stroke-linejoin="round"/><polyline points="910.7,1226.8 910.7,1234.8" fill="none" stroke="#ffffff" stroke-width="2.2" stroke-linecap="round" stroke-linejoin="round"/><polyline points="915.7,1223.8 915.7,1231.8 919.1,1232.8" fill="none" stroke="#ffffff" stroke-width="2.2" stroke-linecap="round" stroke-linejoin="round"/><polyline points="921.6,1224.8 916.6,1228.8" fill="none" stroke="#ffffff" stroke-width="2.2" stroke-linecap="round" stroke-linejoin="round"/><polyline points="908.1,1236.8 926.7,1236.8" fill="none" stroke="#ffffff" stroke-width="2.2" stroke-linecap="round" stroke-linejoin="round"/><polyline points="917.4,1233.8 917.4,1246.8" fill="none" stroke="#ffffff" stroke-width="2.2" stroke-linecap="round" stroke-linejoin="round"/><polyline points="943.5,1223.8 942.7,1232.8 935.0,1245.8" fill="none" stroke="#ffffff" stroke-width="2.2" stroke-linecap="round" stroke-linejoin="round"/><polyline points="943.5,1232.8 952.0,1245.8" fill="none" stroke="#ffffff" stroke-width="2.2" stroke-linecap="round" stroke-linejoin="round"/><polyline points="963.3,1222.8 963.3,1233.8" fill="none" stroke="#ffffff" stroke-width="2.2" stroke-linecap="round" stroke-linejoin="round"/><polyline points="963.3,1227.8 968.1,1227.8" fill="none" stroke="#ffffff" stroke-width="2.2" stroke-linecap="round" stroke-linejoin="round"/><polyline points="959.5,1233.8 959.5,1244.8 968.1,1244.8 968.1,1233.8 959.5,1233.8" fill="none" stroke="#ffffff" stroke-width="2.2" stroke-linecap="round" stroke-linejoin="round"/><polyline points="970.0,1230.8 980.4,1229.8" fill="none" stroke="#ffffff" stroke-width="2.2" stroke-linecap="round" stroke-linejoin="round"/><polyline points="973.8,1223.8 974.7,1236.8 980.4,1245.8" fill="none" stroke="#ffffff" stroke-width="2.2" stroke-linecap="round" stroke-linejoin="round"/><polyline points="978.5,1236.8 970.9,1244.8" fill="none" stroke="#ffffff" stroke-width="2.2" stroke-linecap="round" stroke-linejoin="round"/><polyline points="977.6,1224.8 979.5,1226.8" fill="none" stroke="#ffffff" stroke-width="2.2" stroke-linecap="round" stroke-linejoin="round"/><polyline points="983.8,1229.8 991.7,1229.8" fill="none" stroke="#ffffff" stroke-width="2.2" stroke-linecap="round" stroke-linejoin="round"/><polyline points="988.2,1223.8 988.2,1245.8 986.4,1244.8" fill="none" stroke="#ffffff" stroke-width="2.2" stroke-linecap="round" stroke-linejoin="round"/><polyline points="983.8,1238.8 991.7,1234.8" fill="none" stroke="#ffffff" stroke-width="2.2" stroke-linecap="round" stroke-linejoin="round"/><polyline points="994.3,1224.8 994.3,1245.8" fill="none" stroke="#ffffff" stroke-width="2.2" stroke-linecap="round" stroke-linejoin="round"/><polyline points="994.3,1224.8 1002.2,1224.8 1002.2,1230.8 998.7,1231.8" fill="none" stroke="#ffffff" stroke-width="2.2" stroke-linecap="round" stroke-linejoin="round"/><polyline points="995.2,1234.8 1003.0,1234.8 998.7,1241.8 995.2,1245.8" fill="none" stroke="#ffffff" stroke-width="2.2" stroke-linecap="round" stroke-linejoin="round"/><polyline points="996.9,1236.8 1003.9,1245.8" fill="none" stroke="#ffffff" stroke-width="2.2" stroke-linecap="round" stroke-linejoin="round"/><polyline points="857.5,1222.0 858.5,1225.0" fill="none" stroke="#6a6a6a" stroke-width="1.0" stroke-linecap="round" stroke-linejoin="round"/><polyline points="852.6,1227.0 862.4,1227.0" fill="none" stroke="#6a6a6a" stroke-width="1.0" stroke-linecap="round" stroke-linejoin="round"/><polyline points="856.5,1227.0 856.5,1236.0 853.6,1245.0" fill="none" stroke="#6a6a6a" stroke-width="1.0" stroke-linecap="round" stroke-linejoin="round"/><polyline points="856.5,1233.0 861.5,1233.0 861.5,1243.0 859.5,1244.0" fill="none" stroke="#6a6a6a" stroke-width="1.0" stroke-linecap="round" stroke-linejoin="round"/><polyline points="866.4,1223.0 864.4,1228.0" fill="none" stroke="#6a6a6a" stroke-width="1.0" stroke-linecap="round" stroke-linejoin="round"/><polyline points="865.4,1226.0 875.2,1226.0" fill="none" stroke="#6a6a6a" stroke-width="1.0" stroke-linecap="round" stroke-linejoin="round"/><polyline points="867.4,1230.0 874.2,1229.0" fill="none" stroke="#6a6a6a" stroke-width="1.0" stroke-linecap="round" stroke-linejoin="round"/><polyline points="867.4,1230.0 867.4,1245.0" fill="none" stroke="#6a6a6a" stroke-width="1.0" stroke-linecap="round" stroke-linejoin="round"/><polyline points="867.4,1236.0 873.2,1235.0" fill="none" stroke="#6a6a6a" stroke-width="1.0" stroke-linecap="round" stroke-linejoin="round"/><polyline points="869.3,1235.0 875.2,1245.0" fill="none" stroke="#6a6a6a" stroke-width="1.0" stroke-linecap="round" stroke-linejoin="round"/><polyline points="867.4,1245.0 871.3,1242.0" fill="none" stroke="#6a6a6a" stroke-width="1.0" stroke-linecap="round" stroke-linejoin="round"/><polyline points="880.4,1225.0 882.7,1227.0" fill="none" stroke="#6a6a6a" stroke-width="1.0" stroke-linecap="round" stroke-linejoin="round"/><polyline points="879.6,1231.0 881.9,1233.0" fill="none" stroke="#6a6a6a" stroke-width="1.0" stroke-linecap="round" stroke-linejoin="round"/><polyline points="879.6,1244.0 882.7,1237.0" fill="none" stroke="#6a6a6a" stroke-width="1.0" stroke-linecap="round" stroke-linejoin="round"/><polyline points="885.7,1228.0 896.5,1228.0" fill="none" stroke="#6a6a6a" stroke-width="1.0" stroke-linecap="round" stroke-linejoin="round"/><polyline points="891.1,1223.0 891.1,1234.0" fill="none" stroke="#6a6a6a" stroke-width="1.0" stroke-linecap="round" stroke-linejoin="round"/><polyline points="884.2,1234.0 897.2,1234.0" fill="none" stroke="#6a6a6a" stroke-width="1.0" stroke-linecap="round" stroke-linejoin="round"/><polyline points="889.6,1234.0 885.7,1243.0 894.9,1242.0" fill="none" stroke="#6a6a6a" stroke-width="1.0" stroke-linecap="round" stroke-linejoin="round"/><polyline points="893.4,1239.0 896.5,1244.0" fill="none" stroke="#6a6a6a" stroke-width="1.0" stroke-linecap="round" stroke-linejoin="round"/><polyline points="911.5,1222.0 907.3,1230.0" fill="none" stroke="#6a6a6a" stroke-width="1.0" stroke-linecap="round" stroke-linejoin="round"/><polyline points="909.9,1226.0 909.9,1234.0" fill="none" stroke="#6a6a6a" stroke-width="1.0" stroke-linecap="round" stroke-linejoin="round"/><polyline points="914.9,1223.0 914.9,1231.0 918.3,1232.0" fill="none" stroke="#6a6a6a" stroke-width="1.0" stroke-linecap="round" stroke-linejoin="round"/><polyline points="920.8,1224.0 915.8,1228.0" fill="none" stroke="#6a6a6a" stroke-width="1.0" stroke-linecap="round" stroke-linejoin="round"/><polyline points="907.3,1236.0 925.9,1236.0" fill="none" stroke="#6a6a6a" stroke-width="1.0" stroke-linecap="round" stroke-linejoin="round"/><polyline points="916.6,1233.0 916.6,1246.0" fill="none" stroke="#6a6a6a" stroke-width="1.0" stroke-linecap="round" stroke-linejoin="round"/><polyline points="942.7,1223.0 941.9,1232.0 934.2,1245.0" fill="none" stroke="#6a6a6a" stroke-width="1.0" stroke-linecap="round" stroke-linejoin="round"/><polyline points="942.7,1232.0 951.2,1245.0" fill="none" stroke="#6a6a6a" stroke-width="1.0" stroke-linecap="round" stroke-linejoin="round"/><polyline points="962.5,1222.0 962.5,1233.0" fill="none" stroke="#6a6a6a" stroke-width="1.0" stroke-linecap="round" stroke-linejoin="round"/><polyline points="962.5,1227.0 967.3,1227.0" fill="none" stroke="#6a6a6a" stroke-width="1.0" stroke-linecap="round" stroke-linejoin="round"/><polyline points="958.8,1233.0 958.8,1244.0 967.3,1244.0 967.3,1233.0 958.8,1233.0" fill="none" stroke="#6a6a6a" stroke-width="1.0" stroke-linecap="round" stroke-linejoin="round"/><polyline points="969.2,1230.0 979.6,1229.0" fill="none" stroke="#6a6a6a" stroke-width="1.0" stroke-linecap="round" stroke-linejoin="round"/><polyline points="973.0,1223.0 973.9,1236.0 979.6,1245.0" fill="none" stroke="#6a6a6a" stroke-width="1.0" stroke-linecap="round" stroke-linejoin="round"/><polyline points="977.8,1236.0 970.1,1244.0" fill="none" stroke="#6a6a6a" stroke-width="1.0" stroke-linecap="round" stroke-linejoin="round"/><polyline points="976.8,1224.0 978.7,1226.0" fill="none" stroke="#6a6a6a" stroke-width="1.0" stroke-linecap="round" stroke-linejoin="round"/><polyline points="983.0,1229.0 990.9,1229.0" fill="none" stroke="#6a6a6a" stroke-width="1.0" stroke-linecap="round" stroke-linejoin="round"/><polyline points="987.4,1223.0 987.4,1245.0 985.6,1244.0" fill="none" stroke="#6a6a6a" stroke-width="1.0" stroke-linecap="round" stroke-linejoin="round"/><polyline points="983.0,1238.0 990.9,1234.0" fill="none" stroke="#6a6a6a" stroke-width="1.0" stroke-linecap="round" stroke-linejoin="round"/><polyline points="993.5,1224.0 993.5,1245.0" fill="none" stroke="#6a6a6a" stroke-width="1.0" stroke-linecap="round" stroke-linejoin="round"/><polyline points="993.5,1224.0 1001.4,1224.0 1001.4,1230.0 997.9,1231.0" fill="none" stroke="#6a6a6a" stroke-width="1.0" stroke-linecap="round" stroke-linejoin="round"/><polyline points="994.4,1234.0 1002.2,1234.0 997.9,1241.0 994.4,1245.0" fill="none" stroke="#6a6a6a" stroke-width="1.0" stroke-linecap="round" stroke-linejoin="round"/><polyline points="996.1,1236.0 1003.1,1245.0" fill="none" stroke="#6a6a6a" stroke-width="1.0" stroke-linecap="round" stroke-linejoin="round"/></g>
<g fill="#ffffff" opacity="0.35" font-family="Liberation Sans" font-size="15" font-weight="bold"><text x="443" y="640" textLength="68" lengthAdjust="spacingAndGlyphs">Observatoire</text><text x="452" y="657" textLength="60" lengthAdjust="spacingAndGlyphs" font-weight="normal">Humanitaire</text></g>
<path d="M540,660 Q548,640 560,632 Q575,624 590,636 M552,622 Q560,612 572,618 M545,645 Q530,650 528,640" fill="none" stroke="#ffffff" stroke-opacity="0.4" stroke-width="4" stroke-linecap="round"/>
<g fill="#fff" stroke="#9a9a9a" stroke-width="0.9" opacity="0.9"><ellipse cx="815" cy="1228" rx="12" ry="10"/><ellipse cx="829" cy="1236" rx="11" ry="9.5"/></g>
<g fill="#9a9a9a" opacity="0.8"><circle cx="811" cy="1225" r="1.3"/><circle cx="819" cy="1225" r="1.3"/><circle cx="826" cy="1234" r="1.2"/><circle cx="833" cy="1234" r="1.2"/></g>
</svg>
</body></html>
